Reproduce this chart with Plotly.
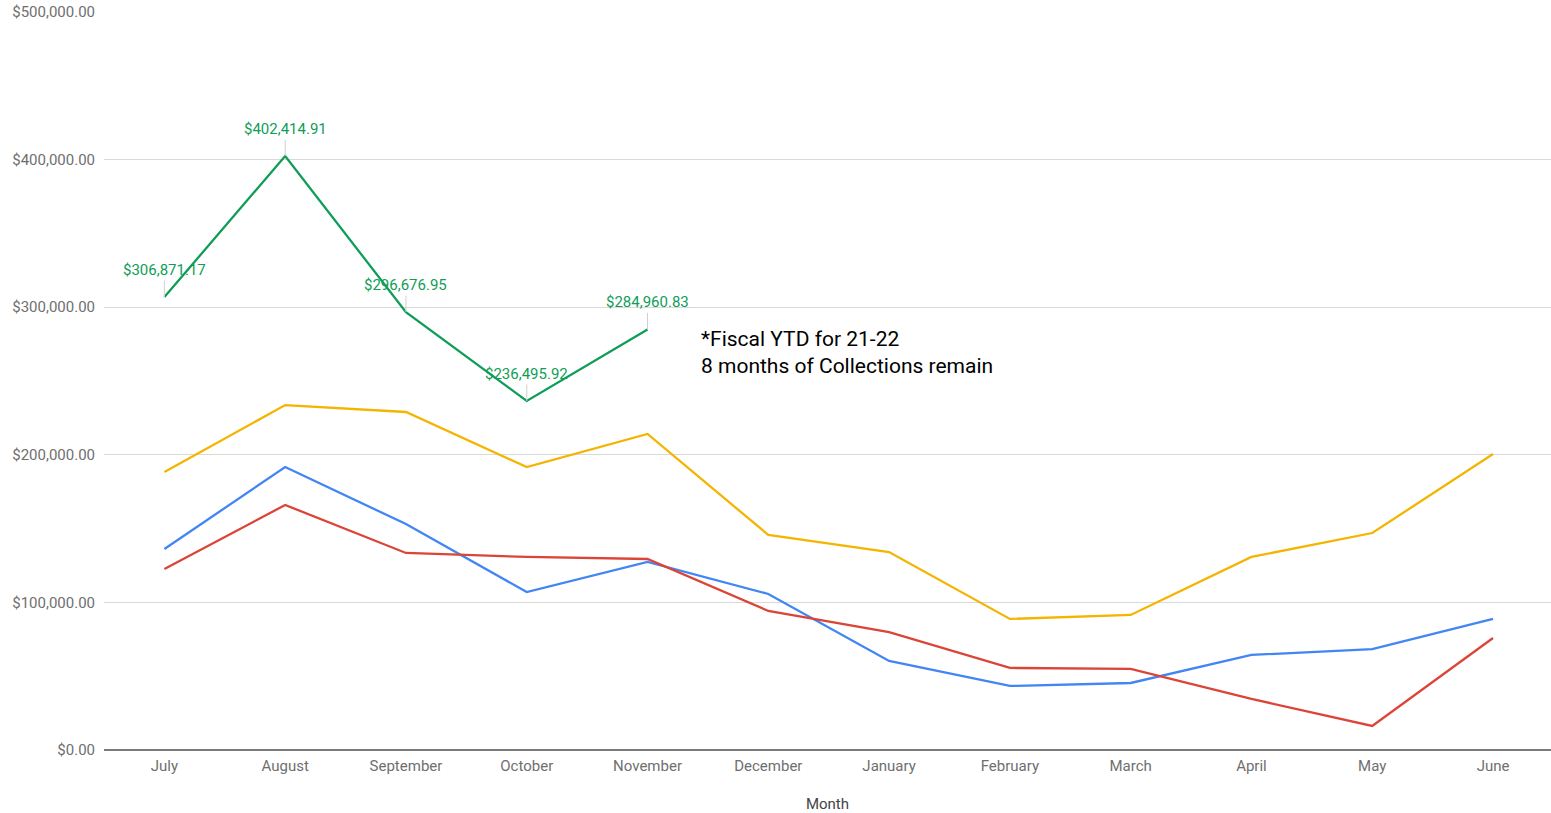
import plotly.graph_objects as go

months = ["July", "August", "September", "October", "November", "December",
          "January", "February", "March", "April", "May", "June"]

blue_vals = [136200, 191700, 153100, 107000, 127400, 105700,
             60300, 43400, 45400, 64400, 68400, 88800]
red_vals = [122600, 166000, 133500, 130800, 129400, 94200,
            79900, 55600, 54900, 34600, 16300, 75900]
yellow_vals = [188300, 233700, 229000, 191700, 214100, 145700,
               134100, 88800, 91500, 130800, 147000, 200500]
ytd_months = months[:5]
ytd_vals = [306871.17, 402414.91, 296676.95, 236495.92, 284960.83]

tick_vals = [0, 100000, 200000, 300000, 400000, 500000]
tick_text = ["$%s" % format(v, ",.2f") for v in tick_vals]

FONT = "Roboto, Arial, sans-serif"
GREEN = "#0f9d58"
TICK_GRAY = "#6f6f6f"

fig = go.Figure()
for name, vals, color in [
    ("Year A", blue_vals, "#4285f4"),
    ("Year B", red_vals, "#db4437"),
    ("Year C", yellow_vals, "#f4b400"),
]:
    fig.add_trace(go.Scatter(x=months, y=vals, mode="lines", name=name,
                             line=dict(color=color, width=2.3)))

fig.add_trace(go.Scatter(x=ytd_months, y=ytd_vals, mode="lines", name="21-22",
                         line=dict(color=GREEN, width=2.3)))

# value labels with short leader lines above each YTD point
for m, v in zip(ytd_months, ytd_vals):
    fig.add_annotation(x=m, y=v, text="$%s" % format(v, ",.2f"),
                       showarrow=True, arrowhead=0, arrowwidth=1,
                       arrowcolor="#d0d0d0", ax=0, ay=-27,
                       font=dict(family=FONT, size=15, color=GREEN))

fig.add_annotation(x=0.411, y=0.5015, xref="paper", yref="paper",
                   xanchor="left", yanchor="bottom", align="left",
                   showarrow=False,
                   text="*Fiscal YTD for 21-22<br>8 months of Collections remain",
                   font=dict(family=FONT, size=21, color="#000000"))

fig.update_layout(
    width=1551, height=813,
    margin=dict(l=104, r=0, t=12, b=63),
    paper_bgcolor="white", plot_bgcolor="white",
    showlegend=False,
    font=dict(family=FONT, size=15, color=TICK_GRAY),
    xaxis=dict(categoryorder="array", categoryarray=months,
               range=[-0.5, 11.48], showgrid=False, showline=False,
               ticks="", ticklabelstandoff=5,
               tickfont=dict(size=15, color=TICK_GRAY),
               title=dict(text="Month", standoff=24,
                          font=dict(size=15, color="#444444"))),
    yaxis=dict(range=[0, 500000], tickvals=tick_vals, ticktext=tick_text,
               showgrid=True, gridcolor="#d9d9d9", gridwidth=1,
               zeroline=True, zerolinecolor="#7a7a7a", zerolinewidth=2,
               ticks="", ticklabelstandoff=8,
               tickfont=dict(size=15, color=TICK_GRAY)),
)

fig.write_html("out.html")
